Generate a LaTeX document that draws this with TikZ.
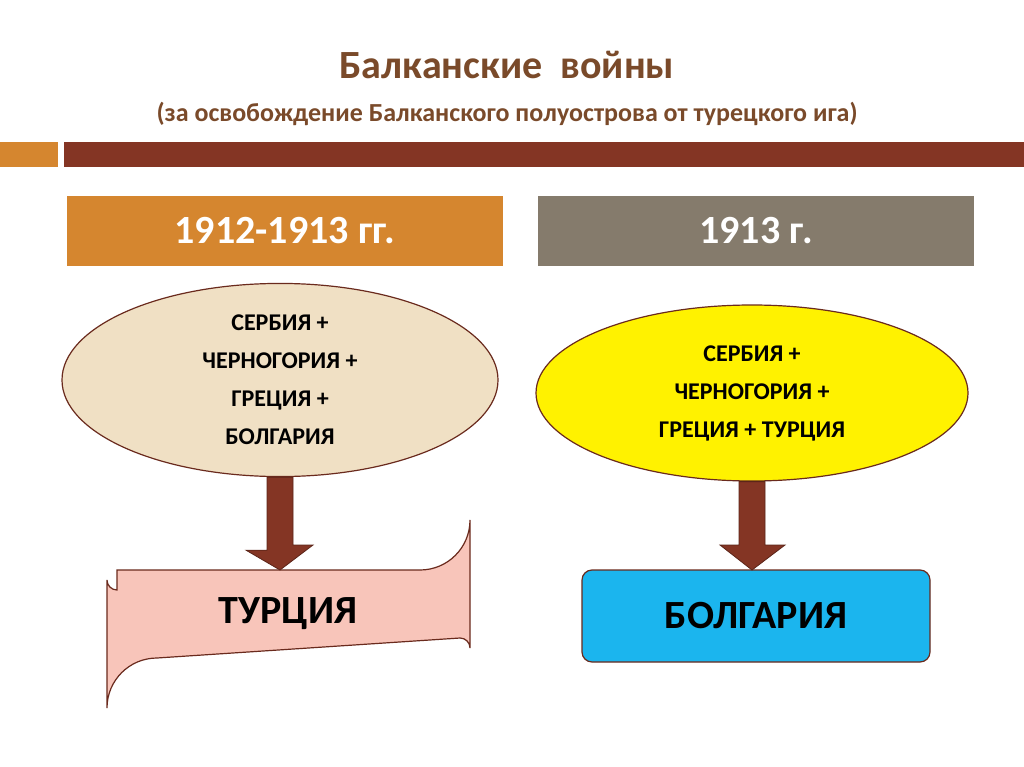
\documentclass[tikz,border=0pt]{standalone}
\usepackage{fontspec}
\setmainfont{Carlito}
\usetikzlibrary{calc}
\definecolor{orng}{HTML}{D5862F}
\definecolor{brwn}{HTML}{843524}
\definecolor{gry}{HTML}{857B6C}
\definecolor{beige}{HTML}{F0E0C4}
\definecolor{pink}{HTML}{F8C5BA}
\definecolor{blu}{HTML}{1BB5EE}
\definecolor{ttl}{HTML}{7A4A2A}
\begin{document}
\begin{tikzpicture}[x=1pt,y=-1pt,
  yearbox/.style={minimum width=436pt,minimum height=70pt,text=white,font=\bfseries\fontsize{40}{44}\selectfont},
  oval/.style={ellipse,draw=brwn!80!black,line width=1.2pt,align=center,font=\bfseries\fontsize{24}{38}\selectfont},
  res/.style={font=\bfseries\fontsize{40}{44}\selectfont},
  arr/.style={fill=brwn,draw=brwn!70!black,line width=0.8pt}]
\usetikzlibrary{shapes.geometric}
\useasboundingbox (0,0) rectangle (1024,767);
\fill[white] (0,0) rectangle (1024,767);
\node[text=ttl,font=\bfseries\fontsize{40}{44}\selectfont] (t1) at (507,65) {Балканские\ \ войны};
\node[text=ttl,font=\bfseries\fontsize{26}{30}\selectfont] (t2) at (507,114) {(за освобождение Балканского полуострова от турецкого ига)};
\fill[orng] (0,142) rectangle (58,167);
\fill[brwn] (64,142) rectangle (1024,167);
\node[yearbox,fill=orng] (y1) at (285,231) {1912-1913 гг.};
\node[yearbox,fill=gry] (y2) at (756,231) {1913 г.};
\node[oval,fill=beige,minimum width=436pt,minimum height=184pt] (e1) at (280,380) {СЕРБИЯ +\\ЧЕРНОГОРИЯ +\\ГРЕЦИЯ +\\БОЛГАРИЯ};
\node[oval,fill=yellow,minimum width=432pt,minimum height=176pt] (e2) at (752,393) {СЕРБИЯ +\\ЧЕРНОГОРИЯ +\\ГРЕЦИЯ + ТУРЦИЯ};
% result boxes
\coordinate (b1) at (107,570);
\filldraw[fill=pink,draw=brwn!80!black,line width=1.2pt]
  (117,570) -- (420,570) arc[start angle=90,end angle=0,radius=50] -- (470,648)
  arc[start angle=0,end angle=-90,radius=10] -- (157,658)
  arc[start angle=270,end angle=180,radius=50] -- (107,580)
  arc[start angle=180,end angle=90,radius=10] -- cycle;
\node[res] (r1) at (288,614) {ТУРЦИЯ};
\node[res,draw=brwn!80!black,line width=1.2pt,fill=blu,rounded corners=10pt,minimum width=348pt,minimum height=92pt] (r2) at (756,616) {БОЛГАРИЯ};
% arrows
\filldraw[arr] ($(e1.south)+(-13,0)$) -- ++(0,73) -- ++(-21,0) -- (280,570) -- ++(33,-25) -- ++(-20,0) -- ($(e1.south)+(13,0)$) -- cycle;
\filldraw[arr] ($(e2.south)+(-13,0)$) |- (720,545) -- (752,570) -- (785,545) -| ($(e2.south)+(13,0)$) -- cycle;
\end{tikzpicture}
\end{document}
